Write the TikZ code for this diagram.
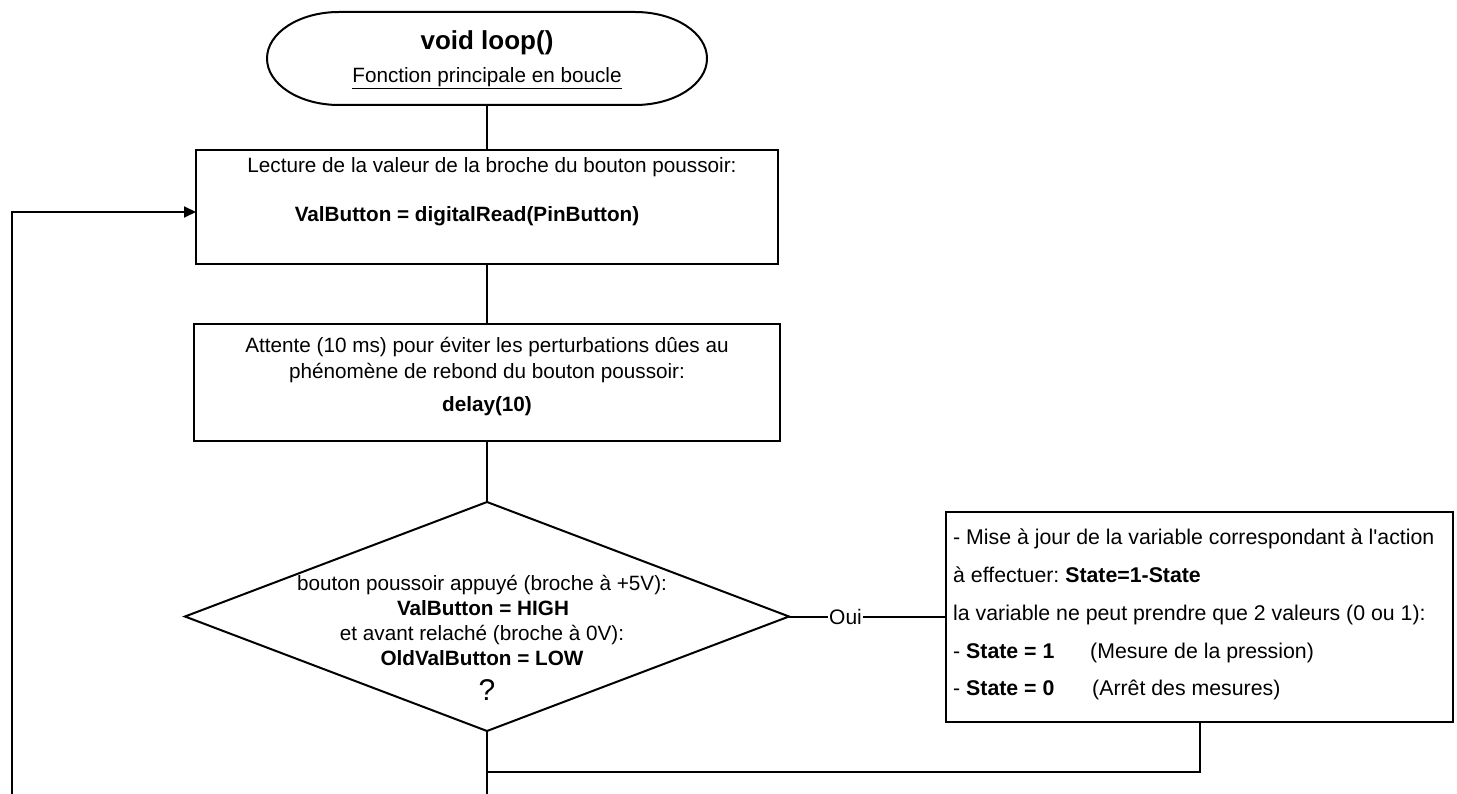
\documentclass[tikz,border=0pt]{standalone}
\usepackage{fontspec}
\setmainfont{Liberation Sans}
\usetikzlibrary{arrows.meta,shapes.geometric}
\frenchspacing
\begin{document}
\begin{tikzpicture}[x=1pt,y=-1pt,
  box/.style={draw, rectangle, line width=2pt, inner sep=0pt, outer sep=0pt},
  tx/.style={inner sep=0pt, font=\fontsize{20.7}{24}\selectfont, text height=14pt, text depth=4pt},
  bx/.style={tx, font=\fontsize{20.7}{24}\selectfont\bfseries},
  conn/.style={line width=2pt},
  lbl/.style={tx, anchor=west, font=\fontsize{21.3}{25}\selectfont}]
\fill[white] (0,0) rectangle (1457,794);
\useasboundingbox (0,0) rectangle (1457,794);

% start terminator
\node[inner sep=0pt, outer sep=0pt, minimum width=440pt, minimum height=93pt] (start) at (487,58.5) {};
\draw[line width=2pt] ([xshift=72pt]start.north west) -- ([xshift=-72pt]start.north east)
  arc[start angle=90, end angle=-90, x radius=72pt, y radius=46.5pt]
  -- ([xshift=72pt]start.south west)
  arc[start angle=270, end angle=90, x radius=72pt, y radius=46.5pt] -- cycle;
\node[tx, font=\fontsize{26}{30}\selectfont\bfseries, text height=19pt] (title) at (487,42) {void loop()};
\node[tx] (subtitle) at (487,78) {\underline{Fonction principale en boucle}};

% rect 1
\node[box, minimum width=582pt, minimum height=114pt] (r1) at (487,207) {};
\node[tx] (r1a) at (492,168) {Lecture de la valeur de la broche du bouton poussoir:};
\node[bx] (r1b) at (467,217) {ValButton = digitalRead(PinButton)};

% rect 2
\node[box, minimum width=586pt, minimum height=117pt] (r2) at (487,382.5) {};
\node[tx] (r2a) at (487,348) {Attente (10 ms) pour éviter les perturbations dûes au};
\node[tx] (r2b) at (487,373) {phénomène de rebond du bouton poussoir:};
\node[bx] (r2c) at (487,406) {delay(10)};

% decision
\node[draw, diamond, line width=2pt, inner sep=0pt, outer sep=0pt, minimum width=604pt, minimum height=229pt] (dec) at (487,616.5) {};
\node[tx] (d1) at (482,585) {bouton poussoir appuyé (broche à +5V):};
\node[bx] (d2) at (483,610) {ValButton = HIGH};
\node[tx] (d3) at (482,635) {et avant relaché (broche à 0V):};
\node[bx] (d4) at (482,660) {OldValButton = LOW};
\node[tx, font=\fontsize{30}{34}\selectfont, text height=21pt] (d5) at (487,692) {?};

% rect 3
\node[box, minimum width=507pt, minimum height=210pt] (r3) at (1199.5,616.5) {};
\node[lbl] (r3a) at (953,539) {- Mise à jour de la variable correspondant à l\textquotesingle action};
\node[lbl] (r3b) at (953,577) {à effectuer: \textbf{State=1-State}};
\node[lbl] (r3c) at (953,615) {la variable ne peut prendre que 2 valeurs (0 ou 1):};
\node[lbl] (r3d) at (953,653) {- \textbf{State = 1}};
\node[lbl] (r3e) at (1090,653) {(Mesure de la pression)};
\node[lbl] (r3f) at (953,690) {- \textbf{State = 0}};
\node[lbl] (r3g) at (1092,690) {(Arrêt des mesures)};

% connectors
\coordinate (join) at (487,772);
\coordinate (downend) at (487,800);
\coordinate (loopbot) at (12,800);
\draw[conn] (start.south) -- (r1.north);
\draw[conn] (r1.south) -- (r2.north);
\draw[conn] (r2.south) -- (dec.north);
\draw[conn] (dec.east) -- node[pos=0.36, fill=white, inner sep=1pt, font=\fontsize{21}{25}\selectfont] (oui) {Oui} (r3.west);
\draw[conn] (dec.south) -- (downend);
\draw[conn] (r3.south) |- (join);
\draw[conn, -{Triangle[length=12pt,width=11pt]}] (loopbot) |- ([yshift=-5pt]r1.west);
\end{tikzpicture}
\end{document}
